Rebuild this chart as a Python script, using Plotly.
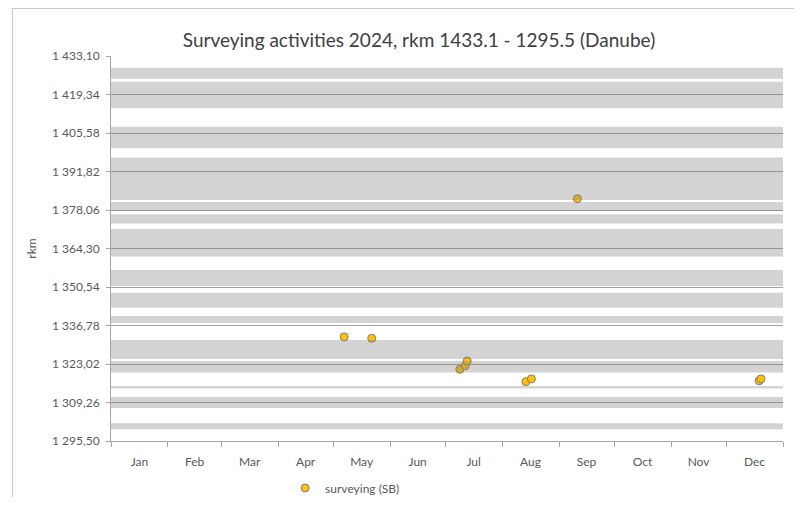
import pandas as pd
import plotly.graph_objects as go

# ---- data ----
SURVEY_DATES = ["2024-05-07", "2024-05-22", "2024-07-09", "2024-07-12", "2024-07-13",
                "2024-08-14", "2024-08-17", "2024-09-11", "2024-12-19", "2024-12-20"]
SURVEY_RKM = [1332.7, 1332.2, 1321.1, 1322.4, 1324.1, 1316.7, 1317.7, 1382.1, 1317.0, 1317.7]

BAND_LOW = [1425.0, 1414.4, 1400.1, 1381.6, 1377.7, 1373.2, 1361.4, 1350.9, 1343.1,
            1337.7, 1324.8, 1320.0, 1314.3, 1307.3, 1299.7]
BAND_HIGH = [1428.9, 1423.9, 1407.8, 1396.8, 1380.9, 1376.5, 1371.3, 1356.6, 1348.5,
             1340.2, 1331.6, 1324.1, 1315.2, 1311.2, 1301.8]

Y_TICKS = [1295.50, 1309.26, 1323.02, 1336.78, 1350.54, 1364.30, 1378.06, 1391.82,
           1405.58, 1419.34, 1433.10]
Y_TICK_TEXT = ["1 295,50", "1 309,26", "1 323,02", "1 336,78", "1 350,54", "1 364,30",
               "1 378,06", "1 391,82", "1 405,58", "1 419,34", "1 433,10"]

MONTHS = ["Jan", "Feb", "Mar", "Apr", "May", "Jun", "Jul", "Aug", "Sep", "Oct", "Nov", "Dec"]
YEAR_START = "2024-01-01"
YEAR_END = "2025-01-01"

TITLE = "Surveying activities 2024, rkm 1433.1 - 1295.5 (Danube)"
SERIES_NAME = "surveying (SB)"

# ---- derived positions ----
starts = pd.date_range(YEAR_START, periods=13, freq="MS")
mids = [starts[i] + (starts[i + 1] - starts[i]) / 2 for i in range(12)]

FONT = "Lato, 'Liberation Sans', sans-serif"
LABEL_COLOR = "#595959"
AXIS_COLOR = "#a6a6a6"

fig = go.Figure()
fig.add_trace(go.Scatter(
    x=SURVEY_DATES, y=SURVEY_RKM, mode="markers", name=SERIES_NAME,
    marker=dict(size=8, color="#ffc000", line=dict(color="#7f7f7f", width=1)),
))

shapes = []
for lo, hi in zip(BAND_LOW, BAND_HIGH):
    shapes.append(dict(type="rect", xref="x domain", yref="y", x0=0, x1=1, y0=lo, y1=hi,
                       fillcolor="rgba(128,128,128,0.35)", line=dict(width=0), layer="above"))
# chart area border
shapes.append(dict(type="rect", xref="paper", yref="paper", x0=-0.1466, x1=1.2,
                   y0=-0.3, y1=1.1234, line=dict(color="#c8c8c8", width=1),
                   fillcolor="rgba(0,0,0,0)", layer="below"))

fig.update_layout(
    width=786, height=489,
    margin=dict(l=103, r=11, t=48, b=56, autoexpand=False),
    paper_bgcolor="white", plot_bgcolor="white",
    font=dict(family=FONT, size=12, color=LABEL_COLOR),
    title=dict(text=TITLE, x=0.5229, xanchor="center", y=0.9346, yanchor="middle",
               font=dict(family=FONT, size=19, color="#404040")),
    showlegend=True,
    legend=dict(orientation="h", x=0.2591, xanchor="left", y=-0.122, yanchor="middle",
                font=dict(family=FONT, size=12, color=LABEL_COLOR),
                bgcolor="rgba(0,0,0,0)"),
    shapes=shapes,
    xaxis=dict(
        type="date", range=[YEAR_START, YEAR_END], automargin=False,
        tickmode="array", tickvals=mids, ticktext=MONTHS,
        ticks="outside", ticklen=10, tickcolor="rgba(0,0,0,0)",
        showgrid=False, showline=True, linecolor=AXIS_COLOR, linewidth=1,
        zeroline=False,
        minor=dict(ticks="outside", ticklen=5, tickcolor=AXIS_COLOR, dtick="M1",
                   tick0=YEAR_START, showgrid=False),
        tickfont=dict(family=FONT, size=12, color=LABEL_COLOR),
    ),
    yaxis=dict(
        range=[Y_TICKS[0], Y_TICKS[-1]], automargin=False,
        tickmode="array", tickvals=Y_TICKS, ticktext=Y_TICK_TEXT,
        ticks="outside", ticklen=4, tickcolor=AXIS_COLOR, ticklabelstandoff=4,
        showgrid=True, gridcolor="#a0a0a0", gridwidth=1,
        showline=True, linecolor=AXIS_COLOR, linewidth=1, zeroline=False,
        tickfont=dict(family=FONT, size=12, color=LABEL_COLOR),
        title=dict(text="rkm", standoff=12, font=dict(family=FONT, size=12, color=LABEL_COLOR)),
    ),
)

fig.write_html("out.html")
